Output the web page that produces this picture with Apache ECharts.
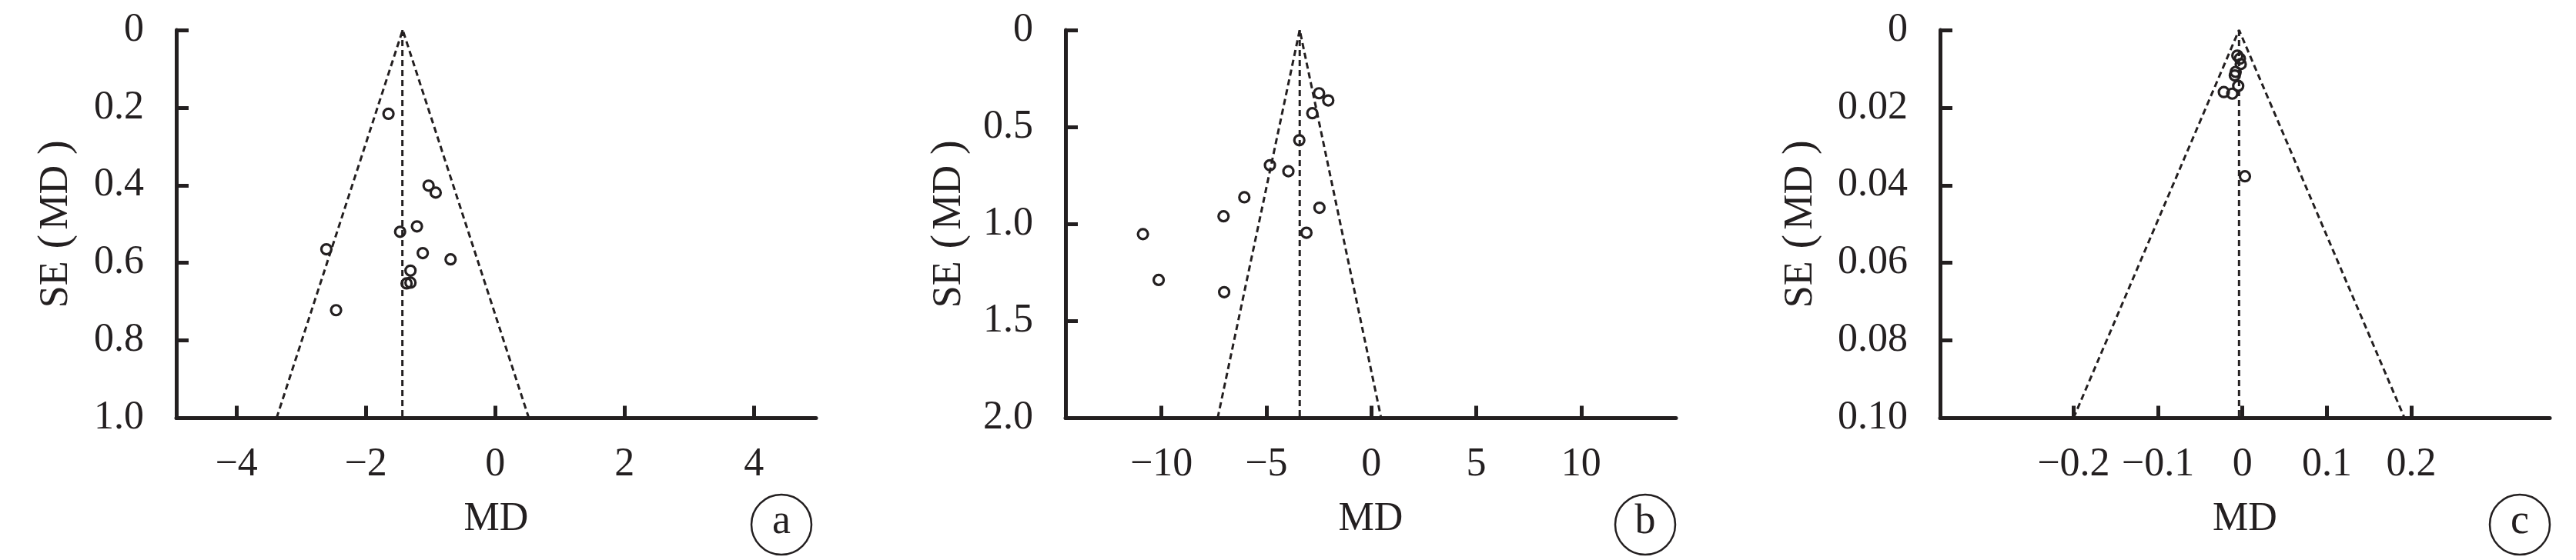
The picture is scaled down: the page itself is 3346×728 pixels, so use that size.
<!DOCTYPE html>
<html><head><meta charset="utf-8">
<script src="https://cdn.jsdelivr.net/npm/echarts@6/dist/echarts.min.js"></script>
<style>html,body{margin:0;padding:0;background:#fff}#c{width:3346px;height:728px}</style>
</head><body><div id="c"></div>
<script>
// ---------- Panel a ----------
const mdA = [-1.65, -1.03, -0.92, -1.47, -1.21, -2.61, -1.12, -0.69, -1.31, -1.37, -1.31, -2.46];
const seA = [0.216, 0.401, 0.419, 0.520, 0.506, 0.565, 0.575, 0.591, 0.620, 0.653, 0.651, 0.722];
const funnelMdA = [-3.38, -1.43, 0.52];
const funnelSeA = [1.0, 0, 1.0];
const centerMdA = [-1.435, -1.435];
const centerSeA = [0, 1.0];
const xTickValsA = [-4, -2, 0, 2, 4];
const xTickLabsA = ['\u22124', '\u22122', '0', '2', '4'];
const yTickValsA = [0, 0.2, 0.4, 0.6, 0.8, 1.0];
const yTickLabsA = ['0', '0.2', '0.4', '0.6', '0.8', '1.0'];

// ---------- Panel b ----------
const mdB = [-2.49, -2.05, -2.81, -3.43, -4.83, -3.95, -6.05, -2.47, -7.04, -3.09, -10.88, -10.13, -7.01];
const seB = [0.326, 0.363, 0.429, 0.568, 0.697, 0.728, 0.862, 0.916, 0.960, 1.045, 1.052, 1.288, 1.351];
const funnelMdB = [-7.32, -3.41, 0.47];
const funnelSeB = [2.0, 0, 2.0];
const centerMdB = [-3.41, -3.41];
const centerSeB = [0, 2.0];
const xTickValsB = [-10, -5, 0, 5, 10];
const xTickLabsB = ['\u221210', '\u22125', '0', '5', '10'];
const yTickValsB = [0, 0.5, 1.0, 1.5, 2.0];
const yTickLabsB = ['0', '0.5', '1.0', '1.5', '2.0'];

// ---------- Panel c ----------
const mdC = [-0.006, -0.003, -0.002, -0.008, -0.009, -0.005, -0.022, -0.012, 0.003];
const seC = [0.0066, 0.0074, 0.0088, 0.0108, 0.0117, 0.0144, 0.0160, 0.0164, 0.0377];
const funnelMdC = [-0.200, -0.004, 0.192];
const funnelSeC = [0.10, 0, 0.10];
const centerMdC = [-0.004, -0.004];
const centerSeC = [0, 0.10];
const xTickValsC = [-0.2, -0.1, 0, 0.1, 0.2];
const xTickLabsC = ['\u22120.2', '\u22120.1', '0', '0.1', '0.2'];
const yTickValsC = [0, 0.02, 0.04, 0.06, 0.08, 0.10];
const yTickLabsC = ['0', '0.02', '0.04', '0.06', '0.08', '0.10'];

const panelLetters = ['a', 'b', 'c'];

const FONT = '"Liberation Serif", "Times New Roman", serif';
const INK = '#231f20';

const panels = [
  {md: mdA, se: seA, fMd: funnelMdA, fSe: funnelSeA, cMd: centerMdA, cSe: centerSeA,
   xv: xTickValsA, xl: xTickLabsA, yv: yTickValsA, yl: yTickLabsA,
   xmin: -4.93, xmax: 4.96, ymax: 1.0, left: 229, width: 831, nameGap: 128, circ: [1015, 682]},
  {md: mdB, se: seB, fMd: funnelMdB, fSe: funnelSeB, cMd: centerMdB, cSe: centerSeB,
   xv: xTickValsB, xl: xTickLabsB, yv: yTickValsB, yl: yTickLabsB,
   xmin: -14.57, xmax: 14.52, ymax: 2.0, left: 1384, width: 793, nameGap: 123, circ: [2137, 682]},
  {md: mdC, se: seC, fMd: funnelMdC, fSe: funnelSeC, cMd: centerMdC, cSe: centerSeC,
   xv: xTickValsC, xl: xTickLabsC, yv: yTickValsC, yl: yTickLabsC,
   xmin: -0.358, xmax: 0.364, ymax: 0.10, left: 2520, width: 792, nameGap: 153, circ: [3273, 682]}
];

function labelFor(vals, labs) {
  return function (v) {
    for (let i = 0; i < vals.length; i++) if (Math.abs(vals[i] - v) < 1e-9) return labs[i];
    return '';
  };
}

const grid = [], xAxis = [], yAxis = [], series = [], graphic = [];
panels.forEach((p, i) => {
  grid.push({left: p.left, top: 39, width: p.width, height: 504.5, containLabel: false});
  xAxis.push({
    type: 'value', gridIndex: i, min: p.xmin, max: p.xmax,
    name: 'MD', nameLocation: 'middle', nameGap: 106,
    nameTextStyle: {fontFamily: FONT, fontSize: 52, color: INK},
    axisLine: {show: true, onZero: false, lineStyle: {color: INK, width: 5}},
    axisTick: {show: true, inside: true, length: 16, customValues: p.xv, lineStyle: {color: INK, width: 5}},
    axisLabel: {show: true, margin: 35, customValues: p.xv, formatter: labelFor(p.xv, p.xl),
      fontFamily: FONT, fontSize: 52, color: INK, showMinLabel: true, showMaxLabel: true},
    splitLine: {show: false}
  });
  yAxis.push({
    type: 'value', gridIndex: i, min: 0, max: p.ymax, inverse: true,
    name: '{s|SE}{pl|(}{s|MD}{pr|)}', nameLocation: 'middle', nameGap: p.nameGap, nameRotate: 90,
    nameTextStyle: {color: INK, rich: {
      s: {fontFamily: FONT, fontSize: 52, color: INK},
      pl: {fontFamily: FONT, fontSize: 56, color: INK, padding: [0, 6, 0, 16]},
      pr: {fontFamily: FONT, fontSize: 56, color: INK, padding: [0, 0, 0, 14]}
    }},
    axisLine: {show: true, onZero: false, lineStyle: {color: INK, width: 5}},
    axisTick: {show: true, inside: true, length: 16, customValues: p.yv, lineStyle: {color: INK, width: 5}},
    axisLabel: {show: true, margin: 42, customValues: p.yv, formatter: labelFor(p.yv, p.yl),
      fontFamily: FONT, fontSize: 52, color: INK, showMinLabel: true, showMaxLabel: true},
    splitLine: {show: false}
  });
  series.push({
    type: 'line', xAxisIndex: i, yAxisIndex: i, silent: true, z: 1,
    data: p.fMd.map((m, k) => [m, p.fSe[k]]), showSymbol: false, symbol: 'none',
    lineStyle: {color: INK, width: 3, type: [8, 5]}
  });
  series.push({
    type: 'line', xAxisIndex: i, yAxisIndex: i, silent: true, z: 1,
    data: p.cMd.map((m, k) => [m, p.cSe[k]]), showSymbol: false, symbol: 'none',
    lineStyle: {color: INK, width: 3, type: [8, 5]}
  });
  series.push({
    type: 'scatter', xAxisIndex: i, yAxisIndex: i, z: 3,
    data: p.md.map((m, k) => [m, p.se[k]]),
    symbol: 'circle', symbolSize: 13,
    itemStyle: {color: 'rgba(0,0,0,0)', borderColor: INK, borderWidth: 3.2, opacity: 1}
  });
  graphic.push({
    type: 'circle', shape: {cx: p.circ[0], cy: p.circ[1], r: 39},
    style: {fill: 'none', stroke: INK, lineWidth: 2.5}
  });
  graphic.push({
    type: 'text', x: p.circ[0], y: p.circ[1] - 3,
    style: {text: panelLetters[i], fontFamily: FONT, fontSize: 54, fill: INK, align: 'center', verticalAlign: 'middle'}
  });
});

const chart = echarts.init(document.getElementById('c'), null, {renderer: 'canvas'});
chart.setOption({
  backgroundColor: '#ffffff',
  animation: false,
  grid, xAxis, yAxis, series, graphic
});
</script>
</body></html>
